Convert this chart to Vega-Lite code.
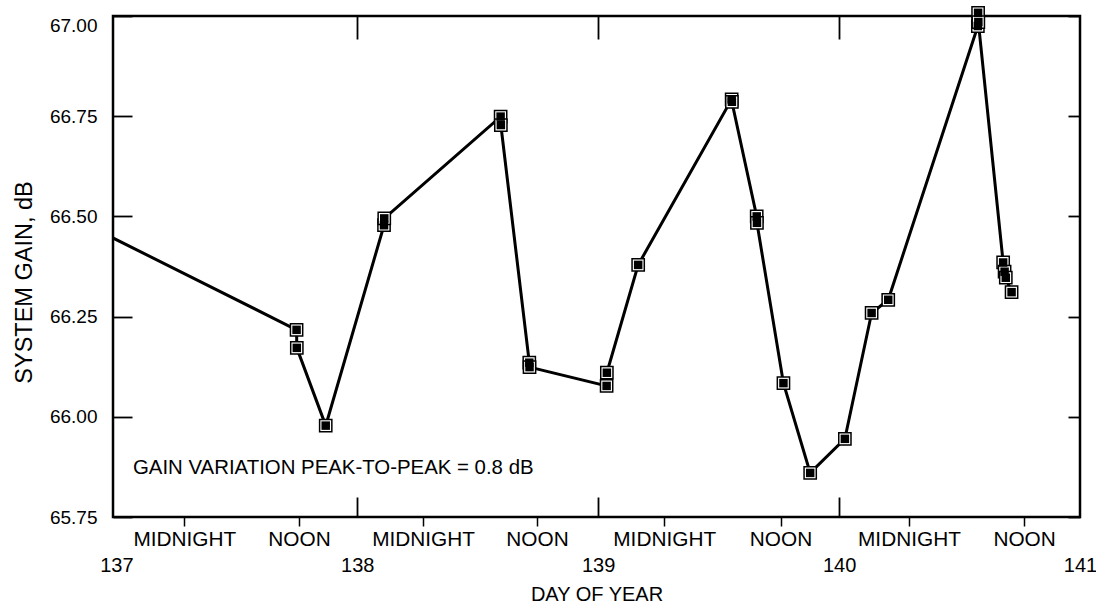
{
  "$schema": "https://vega.github.io/schema/vega-lite/v6.json",
  "width": 967,
  "height": 501,
  "autosize": {"type": "none"},
  "padding": {"left": 113, "top": 16, "right": 16, "bottom": 88},
  "background": "white",
  "config": {
    "view": {"stroke": "black", "strokeWidth": 2.5},
    "font": "Liberation Sans",
    "axis": {
      "domain": false,
      "grid": false,
      "labelFont": "Liberation Sans",
      "labelColor": "black",
      "labelFontSize": 20,
      "labelFlush": false,
      "labelOverlap": false,
      "labelBound": false,
      "tickColor": "black",
      "tickWidth": 1.8,
      "titleFont": "Liberation Sans",
      "titleColor": "black",
      "titleFontSize": 20,
      "titleFontWeight": "normal"
    }
  },
  "data": {
    "values": [
      {"day": 136.900, "gain": 66.472},
      {"day": 137.748, "gain": 66.217},
      {"day": 137.749, "gain": 66.172},
      {"day": 137.869, "gain": 65.978},
      {"day": 138.111, "gain": 66.478},
      {"day": 138.112, "gain": 66.495},
      {"day": 138.595, "gain": 66.749},
      {"day": 138.596, "gain": 66.728},
      {"day": 138.714, "gain": 66.135},
      {"day": 138.715, "gain": 66.124},
      {"day": 139.035, "gain": 66.077},
      {"day": 139.036, "gain": 66.110},
      {"day": 139.166, "gain": 66.379},
      {"day": 139.554, "gain": 66.792},
      {"day": 139.555, "gain": 66.786},
      {"day": 139.658, "gain": 66.500},
      {"day": 139.659, "gain": 66.484},
      {"day": 139.769, "gain": 66.084},
      {"day": 139.880, "gain": 65.860},
      {"day": 140.024, "gain": 65.945},
      {"day": 140.135, "gain": 66.259},
      {"day": 140.204, "gain": 66.292},
      {"day": 140.576, "gain": 66.975},
      {"day": 140.577, "gain": 67.008},
      {"day": 140.578, "gain": 66.985},
      {"day": 140.681, "gain": 66.385},
      {"day": 140.687, "gain": 66.362},
      {"day": 140.692, "gain": 66.347},
      {"day": 140.716, "gain": 66.311}
    ]
  },
  "resolve": {"axis": {"x": "independent", "y": "independent"}},
  "layer": [
    {
      "mark": {"type": "line", "color": "black", "strokeWidth": 3, "clip": true},
      "encoding": {
        "x": {
          "field": "day",
          "type": "quantitative",
          "scale": {"domain": [136.986, 141], "nice": false, "zero": false},
          "axis": {
            "orient": "bottom",
            "values": [137, 138, 139, 140, 141],
            "format": "d",
            "ticks": false,
            "labelPadding": 38,
            "title": "DAY OF YEAR",
            "titlePadding": 9
          }
        },
        "y": {
          "field": "gain",
          "type": "quantitative",
          "scale": {"domain": [65.75, 67], "nice": false, "zero": false},
          "axis": {
            "orient": "left",
            "values": [65.75, 66, 66.25, 66.5, 66.75, 67],
            "format": ".2f",
            "tickSize": -19,
            "labelPadding": 35,
            "labelFontSize": 19,
            "labelBaseline": {"condition": {"test": "datum.value == 67", "value": "top"}, "value": "middle"},
            "title": "SYSTEM GAIN, dB",
            "titleFontSize": 23.5,
            "titleY": 266,
            "titlePadding": 13
          }
        }
      }
    },
    {
      "transform": [{"filter": "datum.day >= 137"}],
      "mark": {"type": "point", "shape": "square", "filled": true, "fill": "white", "stroke": "black", "strokeWidth": 1.5, "size": 150, "opacity": 1},
      "encoding": {
        "x": {
          "field": "day",
          "type": "quantitative",
          "scale": {"domain": [136.986, 141], "nice": false, "zero": false},
          "axis": {
            "orient": "bottom",
            "values": [137.282, 137.758, 138.273, 138.746, 139.274, 139.757, 140.29, 140.768],
            "labelExpr": "(datum.value - floor(datum.value)) < 0.5 ? 'MIDNIGHT' : 'NOON'",
            "labelFontSize": 20.8,
            "tickSize": 9,
            "tickWidth": 1.5,
            "labelPadding": 3,
            "title": null
          }
        },
        "y": {
          "field": "gain",
          "type": "quantitative",
          "scale": {"domain": [65.75, 67], "nice": false, "zero": false},
          "axis": {
            "orient": "right",
            "values": [65.75, 66, 66.25, 66.5, 66.75, 67],
            "tickSize": -12,
            "labels": false,
            "title": null
          }
        }
      }
    },
    {
      "transform": [{"filter": "datum.day >= 137"}],
      "mark": {"type": "point", "shape": "square", "filled": true, "color": "black", "size": 72, "opacity": 1},
      "encoding": {
        "x": {
          "field": "day",
          "type": "quantitative",
          "scale": {"domain": [136.986, 141], "nice": false, "zero": false},
          "axis": {
            "orient": "top",
            "values": [138, 139, 140],
            "tickSize": -23,
            "labels": false,
            "title": null
          }
        },
        "y": {
          "field": "gain",
          "type": "quantitative",
          "scale": {"domain": [65.75, 67], "nice": false, "zero": false},
          "axis": null
        }
      }
    },
    {
      "data": {"values": [{"note": "GAIN VARIATION PEAK-TO-PEAK = 0.8 dB"}]},
      "mark": {"type": "text", "align": "left", "baseline": "middle", "fontSize": 20.4, "font": "Liberation Sans", "color": "black"},
      "encoding": {
        "text": {"field": "note"},
        "x": {
          "datum": 137.069,
          "type": "quantitative",
          "scale": {"domain": [136.986, 141], "nice": false, "zero": false},
          "axis": {
            "orient": "bottom",
            "values": [138, 139, 140],
            "tickSize": -20,
            "labels": false,
            "title": null
          }
        },
        "y": {
          "datum": 65.873,
          "type": "quantitative",
          "scale": {"domain": [65.75, 67], "nice": false, "zero": false},
          "axis": null
        }
      }
    }
  ]
}
